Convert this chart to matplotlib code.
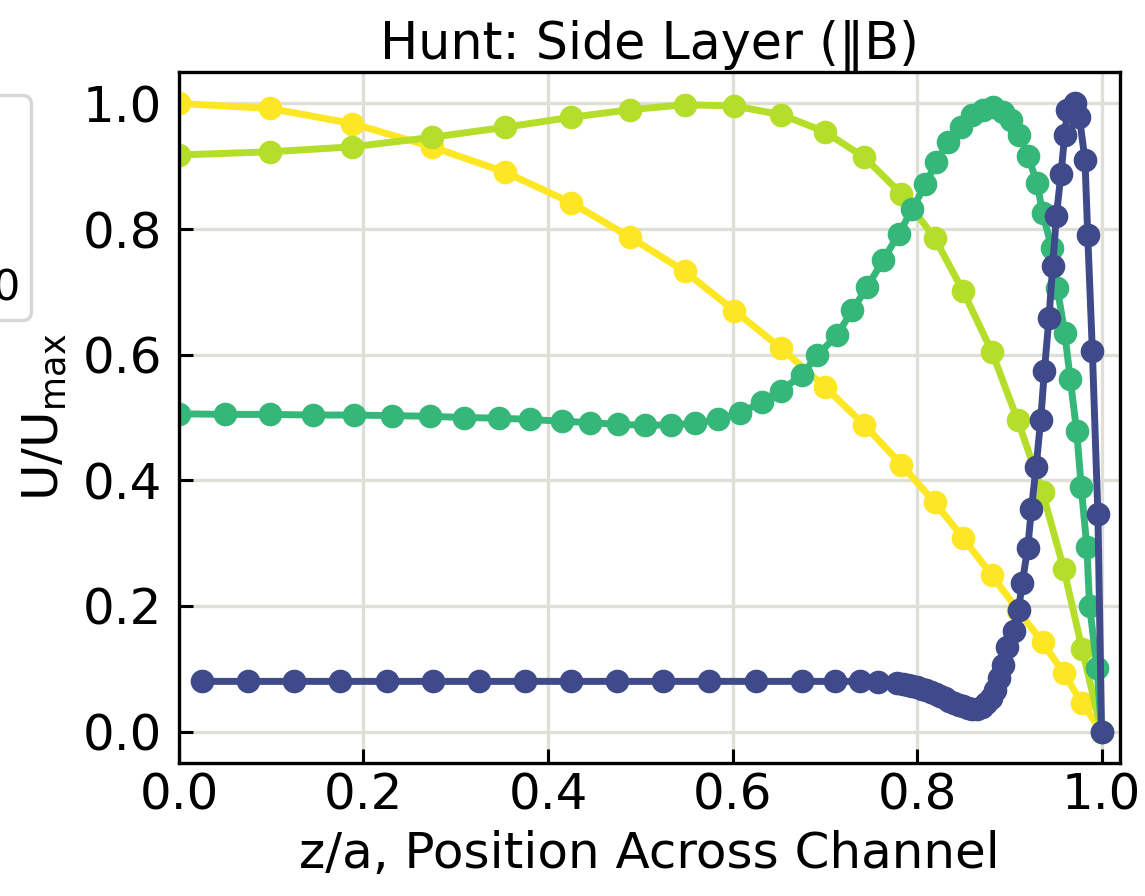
import matplotlib
matplotlib.use("Agg")
import matplotlib.pyplot as plt

plt.rcParams['font.family'] = ['DejaVu Sans']
plt.rcParams['font.size'] = 36
plt.rcParams['mathtext.default'] = 'regular'

# ---------------- data ----------------
x_coarse = [0.0, 0.099, 0.188, 0.274, 0.353, 0.425, 0.489, 0.548, 0.602, 0.653,
            0.700, 0.743, 0.783, 0.819, 0.850, 0.881, 0.909, 0.936, 0.959, 0.979, 1.0]
y_yellow = [1.0, 0.992, 0.968, 0.931, 0.891, 0.842, 0.787, 0.733, 0.670, 0.610,
            0.549, 0.488, 0.425, 0.365, 0.308, 0.249, 0.194, 0.142, 0.093, 0.045, 0.0]
y_ygreen = [0.918, 0.923, 0.931, 0.946, 0.962, 0.978, 0.990, 0.998, 0.996, 0.982,
            0.955, 0.914, 0.856, 0.786, 0.701, 0.605, 0.496, 0.381, 0.259, 0.131, 0.0]

x_green = [0.000, 0.050, 0.099, 0.145, 0.190, 0.231, 0.272, 0.309, 0.347, 0.381,
           0.415, 0.446, 0.476, 0.505, 0.533, 0.559, 0.584, 0.608, 0.632, 0.653,
           0.675, 0.692, 0.713, 0.730, 0.746, 0.763, 0.780, 0.795, 0.809, 0.821,
           0.834, 0.848, 0.860, 0.871, 0.882, 0.893, 0.902, 0.911, 0.920, 0.930,
           0.936, 0.946, 0.952, 0.960, 0.966, 0.973, 0.978, 0.984, 0.987, 0.995, 1.000]
y_green = [0.506, 0.505, 0.505, 0.504, 0.504, 0.503, 0.502, 0.500, 0.499, 0.497,
           0.494, 0.492, 0.489, 0.488, 0.488, 0.491, 0.497, 0.508, 0.524, 0.543,
           0.568, 0.599, 0.631, 0.671, 0.708, 0.750, 0.792, 0.832, 0.871, 0.907,
           0.939, 0.962, 0.981, 0.990, 0.994, 0.986, 0.973, 0.949, 0.917, 0.874,
           0.826, 0.770, 0.706, 0.635, 0.562, 0.478, 0.389, 0.294, 0.200, 0.102, 0.0]

x_blue = [0.025, 0.075, 0.125, 0.175, 0.225, 0.275, 0.325, 0.375, 0.425, 0.475,
          0.525, 0.575, 0.625, 0.675, 0.711, 0.738, 0.758, 0.778,
          0.785, 0.790, 0.795, 0.800, 0.805, 0.810, 0.815, 0.820, 0.825, 0.830,
          0.835, 0.840, 0.845, 0.850, 0.855, 0.860, 0.865, 0.870, 0.875, 0.880,
          0.885, 0.889, 0.893, 0.898, 0.905, 0.910, 0.914, 0.920, 0.924, 0.929,
          0.934, 0.938, 0.943, 0.947, 0.951, 0.956, 0.960, 0.963, 0.971, 0.976,
          0.982, 0.985, 0.990, 0.996, 1.0]
y_blue = [0.080, 0.080, 0.080, 0.080, 0.080, 0.080, 0.080, 0.080, 0.080, 0.080,
          0.080, 0.080, 0.080, 0.080, 0.080, 0.080, 0.079, 0.077,
          0.076, 0.075, 0.073, 0.071, 0.068, 0.066, 0.063, 0.060, 0.056, 0.053,
          0.049, 0.046, 0.043, 0.040, 0.038, 0.036, 0.036, 0.039, 0.045, 0.054,
          0.067, 0.085, 0.106, 0.134, 0.160, 0.194, 0.237, 0.293, 0.355, 0.421,
          0.496, 0.574, 0.659, 0.741, 0.821, 0.888, 0.949, 0.989, 1.000, 0.978,
          0.910, 0.790, 0.606, 0.346, 0.0]

series_colors = ['#fde725', '#b5de2b', '#35b779', '#3e4a89']
legend_labels = ['Ha = 10', 'Ha = 100', 'Ha = 1000']
tick_vals = [0.0, 0.2, 0.4, 0.6, 0.8, 1.0]
tick_labels = ['0.0', '0.2', '0.4', '0.6', '0.8', '1.0']

# ---------------- figure ----------------
fig = plt.figure(figsize=(11.45, 8.96), dpi=100)
ax = fig.add_axes([0.1563, 0.1484, 0.8219, 0.7712])

style = dict(marker='o', lw=5, ms=16)
ax.plot(x_coarse, y_yellow, color=series_colors[0], mec=series_colors[0], **style)
l2, = ax.plot(x_coarse, y_ygreen, color=series_colors[1], mec=series_colors[1], **style)
l3, = ax.plot(x_green, y_green, color=series_colors[2], mec=series_colors[2], **style)
l4, = ax.plot(x_blue, y_blue, color=series_colors[3], mec=series_colors[3], **style)

ax.set_xlim(0, 1.02)
ax.set_ylim(-0.05, 1.05)
ax.set_xticks(tick_vals)
ax.set_xticklabels(tick_labels)
ax.set_yticks(tick_vals)
ax.set_yticklabels(tick_labels)
ax.tick_params(direction='in', length=10, width=2.2, pad=6)
ax.tick_params(axis='y', pad=12)
for sp in ax.spines.values():
    sp.set_linewidth(2.4)
ax.grid(True, color='#dfdfd7', lw=2.4)
ax.set_axisbelow(True)

ax.set_title('Hunt: Side Layer (\u2016B)', fontsize=36.5, pad=6)
ax.set_xlabel('z/a, Position Across Channel', labelpad=8)
ax.set_ylabel(r'$\mathrm{U/U_{max}}$', labelpad=10)

leg = fig.legend([l2, l3, l4], legend_labels, loc='upper right',
                 bbox_to_anchor=(31 / 1145, 1 - 95 / 896), borderaxespad=0,
                 fontsize=31, labelspacing=0.9, borderpad=0.25,
                 frameon=True, fancybox=True, edgecolor='0.8', framealpha=0.8)
leg.get_frame().set_linewidth(2.4)

fig.savefig('out.png', dpi=100)
